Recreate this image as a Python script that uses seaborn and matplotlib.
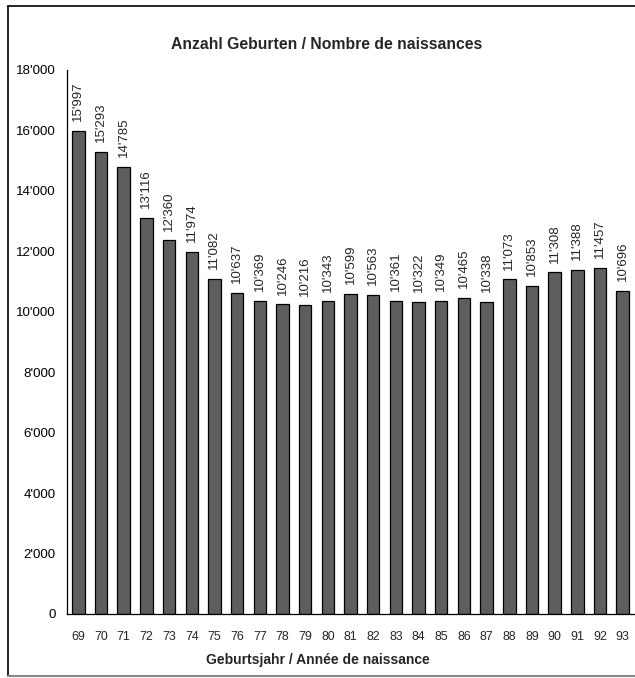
import numpy as np
import pandas as pd
import matplotlib
matplotlib.use("Agg")
import matplotlib.pyplot as plt
import seaborn as sns
from matplotlib.lines import Line2D

years = ['69', '70', '71', '72', '73', '74', '75', '76', '77', '78', '79', '80', '81',
         '82', '83', '84', '85', '86', '87', '88', '89', '90', '91', '92', '93']
births = [15997, 15293, 14785, 13116, 12360, 11974, 11082, 10637, 10369, 10246, 10216,
          10343, 10599, 10563, 10361, 10322, 10349, 10465, 10338, 11073, 10853, 11308,
          11388, 11457, 10696]
yticks = [0, 2000, 4000, 6000, 8000, 10000, 12000, 14000, 16000, 18000]

def fmt(v):
    return f"{v:,}".replace(",", "'")

df = pd.DataFrame({'year': years, 'births': births})

sns.set_style("white")
plt.rcParams['font.family'] = ['Liberation Sans', 'DejaVu Sans']

fig = plt.figure(figsize=(6.35, 6.78), dpi=100)
ax = fig.add_axes([0.1055, 0.0944, 0.893, 0.8024])

sns.barplot(data=df, x='year', y='births', color='#5e5e5e', width=0.55,
            edgecolor='black', linewidth=0.9, saturation=1, ax=ax)

# value labels above bars
for i, v in enumerate(births):
    ax.annotate(fmt(v), (i, v), xytext=(0, 7), textcoords='offset points',
                rotation=90, ha='center', va='bottom', fontsize=9.5)

ax.set_xlim(-0.5, 24.5)
ax.set_ylim(0, 18000)
ax.set_yticks(yticks)
ax.set_yticklabels([fmt(t) for t in yticks], fontsize=9.6)
ax.set_xticks(np.arange(-0.5, 25, 1))
ax.set_xticklabels([])
ax.tick_params(axis='x', direction='inout', length=9, width=0.9, colors='black')
ax.tick_params(axis='y', direction='out', length=5, width=0.9, colors='black', pad=3)
for i, y in enumerate(years):
    ax.text(i, -550, y, ha='center', va='top', fontsize=8.9)

for s in ['top', 'right']:
    ax.spines[s].set_visible(False)
for s in ['left', 'bottom']:
    ax.spines[s].set_color('black')
    ax.spines[s].set_linewidth(0.9)

ax.set_xlabel('')
ax.set_ylabel('')
fig.text(0.5, 0.026, 'Geburtsjahr / Année de naissance', ha='center', va='center',
         fontsize=10, fontweight='bold')
fig.text(0.515, 0.935, 'Anzahl Geburten / Nombre de naissances', ha='center', va='center',
         fontsize=11.3, fontweight='bold')

# frame around figure
x0, y0, y1 = 8 / 635, 2 / 678, 1 - 6 / 678
fig.add_artist(Line2D([x0, x0], [y0, y1], color='black', lw=1.2))
fig.add_artist(Line2D([x0, 1], [y1, y1], color='black', lw=1.2))
fig.add_artist(Line2D([x0, 1], [y0, y0], color='#888888', lw=1.5))

fig.savefig('out.png', dpi=100)
